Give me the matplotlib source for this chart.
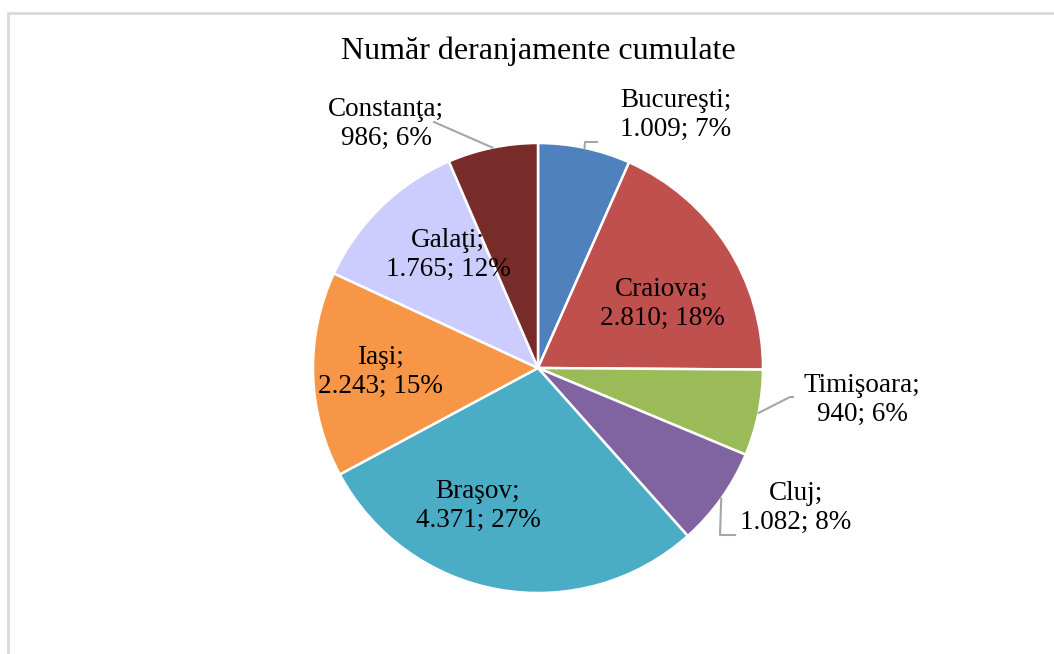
import numpy as np
import matplotlib.pyplot as plt

# data
cities = ["Bucureşti", "Craiova", "Timişoara", "Cluj", "Braşov", "Iaşi", "Galaţi", "Constanţa"]
values = [1009, 2810, 940, 1082, 4371, 2243, 1765, 986]
percent_labels = ["7%", "18%", "6%", "8%", "27%", "15%", "12%", "6%"]
colors = ["#4F81BD", "#C0504D", "#9BBB59", "#8064A2", "#4BACC6", "#F79646", "#CCCCFF", "#772C2A"]

W, H = 1054, 654
CX, CY, R = 538, 368, 225  # pie centre / radius in pixels (y from top)

# label centres in pixels (y from top)
label_pos = {
    "Bucureşti": (676, 115),
    "Craiova": (662, 304),
    "Timişoara": (862, 400),
    "Cluj": (796, 508),
    "Braşov": (478, 506),
    "Iaşi": (380, 372),
    "Galaţi": (448, 255),
    "Constanţa": (386, 124),
}
# leader elbows: list of extra points after the pie edge point
leaders = {
    "Bucureşti": [(585, 142), (597, 142)],
    "Timişoara": [(790, 397), (793, 397)],
    "Cluj": [(720, 535), (735, 535)],
    "Constanţa": [(434, 122)],
}

plt.rcParams['font.family'] = ['Liberation Serif', 'DejaVu Serif']

fig = plt.figure(figsize=(W / 100, H / 100), dpi=100)
ax = fig.add_axes([0, 0, 1, 1])

wedges, _ = ax.pie(values, colors=colors, startangle=90, counterclock=False,
                   center=(CX, H - CY), radius=R,
                   wedgeprops=dict(edgecolor="white", linewidth=1.8))
ax.set_xlim(0, W)
ax.set_ylim(0, H)
ax.set_aspect("equal")
ax.axis("off")

# chart frame (only top and left edges visible)
ax.plot([8, 8, W], [0, H - 13, H - 13], color="#D9D9D9", lw=2, solid_joinstyle="miter")

ax.text(CX, H - 51, "Număr deranjamente cumulate", ha="center", va="center", fontsize=23)

for w, city, v, pct in zip(wedges, cities, values, percent_labels):
    x, y = label_pos[city]
    txt = f"{city};\n{v:,}".replace(",", ".") + f"; {pct}"
    ax.text(x, H - y, txt, ha="center", va="center", fontsize=19.5, linespacing=1.2)
    if city in leaders:
        mid = np.deg2rad((w.theta1 + w.theta2) / 2)
        sx = CX + R * np.cos(mid)
        sy = (H - CY) + R * np.sin(mid)
        pts = [(sx, sy)] + [(px, H - py) for px, py in leaders[city]]
        ax.plot([p[0] for p in pts], [p[1] for p in pts], color="#A6A6A6", lw=1.5)

fig.savefig("out.png", dpi=100)
